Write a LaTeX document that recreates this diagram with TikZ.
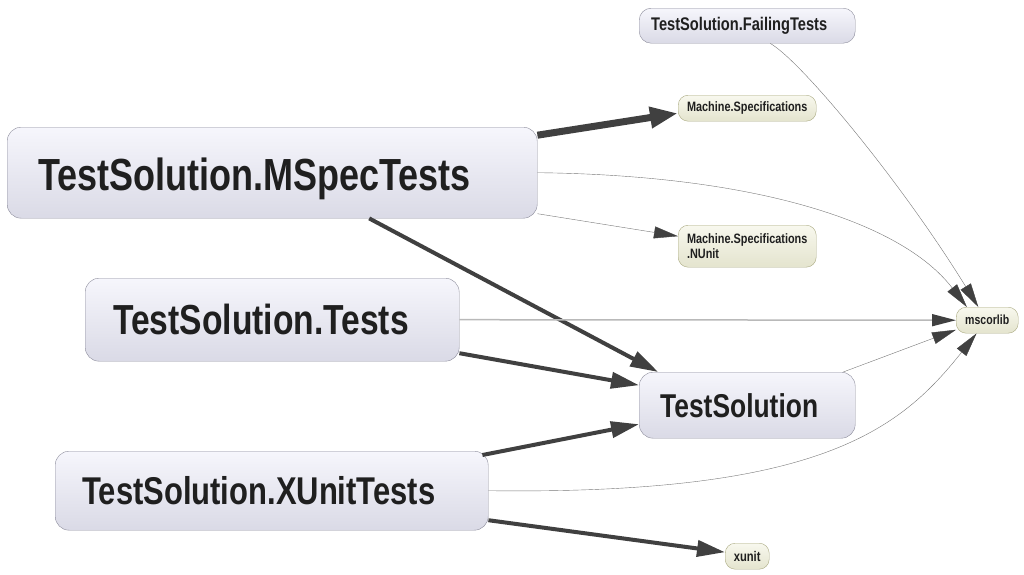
\documentclass[tikz,border=0pt]{standalone}
\usepackage{fontspec}
\usetikzlibrary{arrows.meta}
\newfontfamily\asmfont{Liberation Sans}[FakeStretch=0.8]
\definecolor{boxtop}{RGB}{246,246,252}
\definecolor{boxbot}{RGB}{218,218,230}
\definecolor{boxline}{RGB}{140,140,155}
\definecolor{libtop}{RGB}{248,248,238}
\definecolor{libbot}{RGB}{228,228,206}
\definecolor{libline}{RGB}{170,170,130}
\definecolor{edgel}{RGB}{120,120,120}
\definecolor{edgell}{RGB}{185,185,185}
\definecolor{edged}{RGB}{64,64,64}
\tikzset{
  asm/.style = {draw=boxline,top color=boxtop,bottom color=boxbot,rounded corners=14pt,anchor=north west,align=left,inner ysep=0pt,text=black!88},
  lib/.style = {asm,draw=libline,top color=libtop,bottom color=libbot,rounded corners=10pt},
  fs/.style 2 args = {font=\asmfont\bfseries\fontsize{#1}{#2}\selectfont},
  arr/.style = {edgel,thin,-{Triangle[length=24pt,width=12pt,color=edged]}},
  arrl/.style = {edgell,line width=1.5pt,-{Triangle[length=24pt,width=12pt,color=edged]}},
  arrd/.style = {edged,line width=4pt,-{Triangle[length=28pt,width=16pt]}},
  arrdd/.style = {edged,line width=7pt,-{Triangle[length=28pt,width=20pt]}}
}

\begin{document}
\begin{tikzpicture}[x=1pt,y=-1pt]
\useasboundingbox (0,0) rectangle (1024,574);

\node[asm,fs={45}{50},inner xsep=31pt,text width=468pt,text height=45pt,minimum height=91pt] (mspec) at (7,127) {TestSolution.MSpecTests};
\node[asm,fs={42}{46},inner xsep=28pt,text width=318pt,minimum height=83pt] (tests) at (85,278) {TestSolution.Tests};
\node[asm,fs={38.7}{43},inner xsep=27pt,text width=379pt,minimum height=79pt] (xunitt) at (55,451) {TestSolution.XUnitTests};
\node[asm,fs={33}{36},inner xsep=21pt,text width=174pt,minimum height=66pt] (sol) at (639,372) {TestSolution};
\node[asm,fs={18.3}{20},inner xsep=12pt,text width=192pt,minimum height=35pt,rounded corners=12pt] (failing) at (639,8) {TestSolution.FailingTests};

\node[lib,fs={13.6}{15},minimum width=138pt,minimum height=26pt] (mspecs) at (678,95) {Machine.Specifications};
\node[lib,fs={13.6}{15},minimum width=138pt,minimum height=42pt] (mnunit) at (678,225) {Machine.Specifications\\.NUnit};
\node[lib,fs={13.2}{15},minimum width=62pt,minimum height=26pt] (mscorlib) at (956,307) {mscorlib};
\node[lib,fs={14}{15},minimum width=44pt,minimum height=26pt] (xunit) at (725,543) {xunit};

\draw[arrdd] ([yshift=37.5pt]mspec.east) -- ([yshift=-5pt]mspecs.west);
\draw[arr] (mspec.east) .. controls (750,175) and (900,220) .. (mscorlib.147);
\draw[arr] ([yshift=-41pt]mspec.east) -- ([yshift=10pt]mnunit.west);
\draw[arrd] ([xshift=97pt]mspec.south) -- ([xshift=-89pt]sol.north);

\draw[arr] ([xshift=23pt]failing.south) .. controls (800,60) and (900,180) .. (mscorlib.124);

\draw[arrl] (tests.east) -- (mscorlib.west);
\draw[arrd] ([yshift=-33.5pt]tests.east) -- ([yshift=20pt]sol.west);

\draw[arr] ([xshift=96pt]sol.north) -- (mscorlib.197);

\draw[arrd] ([shift={(-6pt,-4pt)}]xunitt.north east) -- ([yshift=-19pt]sol.west);
\draw[arr] (xunitt.east) .. controls (820,495) and (900,430) .. (mscorlib.231);
\draw[arrd] ([yshift=-29.5pt]xunitt.east) -- ([yshift=4pt]xunit.west);
\end{tikzpicture}
\end{document}
